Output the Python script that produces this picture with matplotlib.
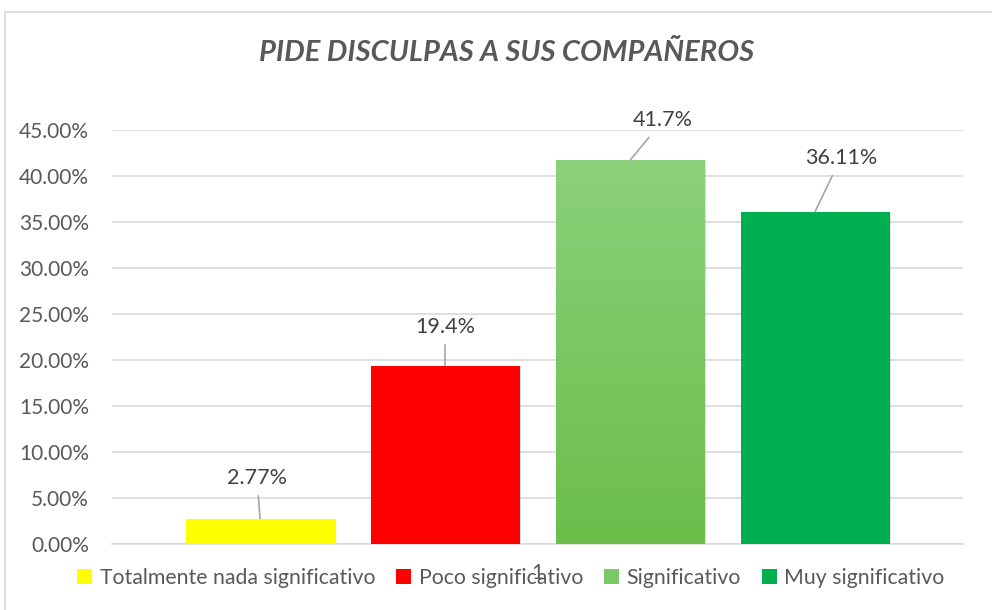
import matplotlib
matplotlib.use("Agg")
import matplotlib.pyplot as plt
import numpy as np
from matplotlib.patches import Rectangle
from matplotlib.ticker import FuncFormatter, MultipleLocator
from matplotlib.colors import LinearSegmentedColormap

categories = ["Totalmente nada significativo", "Poco significativo", "Significativo", "Muy significativo"]
values = [0.0277, 0.194, 0.417, 0.3611]
value_labels = ["2.77%", "19.4%", "41.7%", "36.11%"]
colors = ["#FFFF00", "#FF0000", "#7CC866", "#00B050"]
x_tick_labels = ["1"]

plt.rcParams['font.family'] = ['Lato', 'DejaVu Sans']
TXT = "#595959"

fig = plt.figure(figsize=(9.92, 6.10), dpi=100)
W, H = 992, 610
ax = fig.add_axes([112 / W, 1 - 544 / H, (963 - 112) / W, (544 - 130) / H])

# chart border
fig.patches.append(Rectangle((5 / W, -0.1), 1.2, 1 - 12 / H + 0.1, transform=fig.transFigure,
                             fill=False, edgecolor="#D9D9D9", linewidth=1.2))

step = 185 / 851
bw = 149 / 851
offsets = [(i - 1.5) * step for i in range(4)]
ax.set_xlim(-0.5, 0.5)
ax.set_ylim(0, 0.45)

bars = []
for i, (off, v, c, name) in enumerate(zip(offsets, values, colors, categories)):
    ax.bar(off + 0.002, v, bw, bottom=-0.001, color="#000000", alpha=0.12, zorder=2, linewidth=0)
    b = ax.bar(off, v, bw, color=c, label=name, zorder=3, linewidth=0)
    bars.append(b[0])

# gradient on the light green bar
gb = bars[2]
grad = np.linspace(0, 1, 256).reshape(-1, 1)
cmap = LinearSegmentedColormap.from_list("g", ["#6BBE4A", "#8BD17A"])
im = ax.imshow(grad, cmap=cmap, aspect="auto", origin="lower",
               extent=[gb.get_x(), gb.get_x() + gb.get_width(), 0, values[2]], zorder=4)
im.set_clip_path(gb)

ax.yaxis.set_major_locator(MultipleLocator(0.05))
ax.yaxis.set_major_formatter(FuncFormatter(lambda v, p: f"{v*100:.2f}%"))
ax.grid(axis="y", color="#D9D9D9", linewidth=1.2, zorder=0)
ax.set_axisbelow(True)
for s in ["top", "right", "left"]:
    ax.spines[s].set_visible(False)
ax.spines["bottom"].set_color("#D9D9D9")
ax.spines["bottom"].set_linewidth(1.2)
ax.tick_params(axis="y", length=0, labelsize=15, labelcolor=TXT, pad=16.5)
ax.set_xticks([0])
ax.set_xticklabels(x_tick_labels)
ax.tick_params(axis="x", length=0, labelsize=15, labelcolor=TXT, pad=14)

# data labels with leader lines (text center offset in pixels from bar top center)
label_off = [(-3, 41), (0, 39), (33, 40), (26, 54)]
for off, v, lab, (dx, dy) in zip(offsets, values, value_labels, label_off):
    ax.annotate(lab, xy=(off, v), xytext=(dx, dy), textcoords="offset pixels",
                ha="center", va="center", fontsize=15.5, color="#404040", zorder=6,
                arrowprops=dict(arrowstyle="-", color="#A6A6A6", lw=1.2,
                                shrinkA=4, shrinkB=0))

fig.text(507 / W, 1 - 53 / H, "PIDE DISCULPAS A SUS COMPAÑEROS", fontsize=21, fontweight="bold",
         fontstyle="italic", color=TXT, ha="center", va="center")

leg = fig.legend(loc="center", bbox_to_anchor=(511 / W, 1 - 578 / H), ncol=4, frameon=False,
                 fontsize=15.3, labelcolor=TXT, handlelength=0.7, handleheight=0.7,
                 handletextpad=0.35, columnspacing=1.0)

fig.savefig("out.png", dpi=100)
